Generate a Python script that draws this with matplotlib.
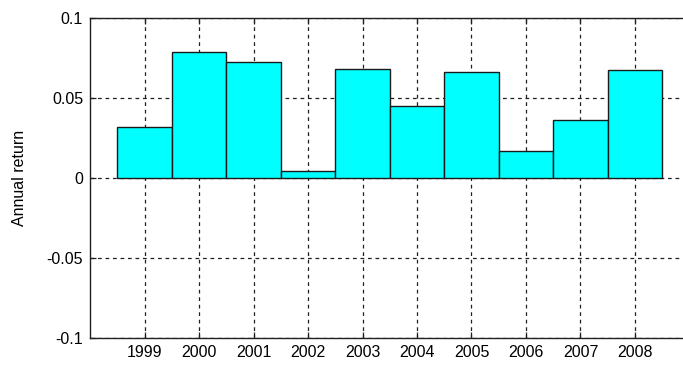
import numpy as np
import matplotlib.pyplot as plt

years = [1999, 2000, 2001, 2002, 2003, 2004, 2005, 2006, 2007, 2008]
annual_return = [0.0317, 0.0788, 0.0727, 0.0046, 0.0683, 0.0448, 0.0660, 0.0169, 0.0360, 0.0675]
yticks = [-0.1, -0.05, 0, 0.05, 0.1]
ytick_labels = ['-0.1', '-0.05', '0', '0.05', '0.1']

plt.rcParams['font.family'] = ['Liberation Sans', 'DejaVu Sans']
plt.rcParams['font.size'] = 11.5

fig = plt.figure(figsize=(6.83, 3.65), dpi=100)
ax = fig.add_axes([0.1318, 0.074, 0.8777, 0.8767])

ax.bar(years, annual_return, width=1.0, color='#00ffff',
       edgecolor='#1a1a1a', linewidth=1.0, zorder=3)

ax.set_xlim(1998, 2009)
ax.set_ylim(-0.1, 0.1)
ax.set_xticks(years)
ax.set_xticklabels([str(y) for y in years])
ax.set_yticks(yticks)
ax.set_yticklabels(ytick_labels)

ax.grid(True, color='#202020', linestyle=(0, (3, 3)), linewidth=0.9, zorder=1)
ax.set_axisbelow(True)
ax.tick_params(direction='in', length=4, width=0.9, top=True, right=True,
               colors='#202020', labelcolor='black', pad=5)
for side in ax.spines.values():
    side.set_linewidth(1.0)
    side.set_color('#202020')

ax.set_ylabel('Annual return')
ax.yaxis.set_label_coords(-0.105, 0.5)

fig.savefig('out.png', dpi=100)
